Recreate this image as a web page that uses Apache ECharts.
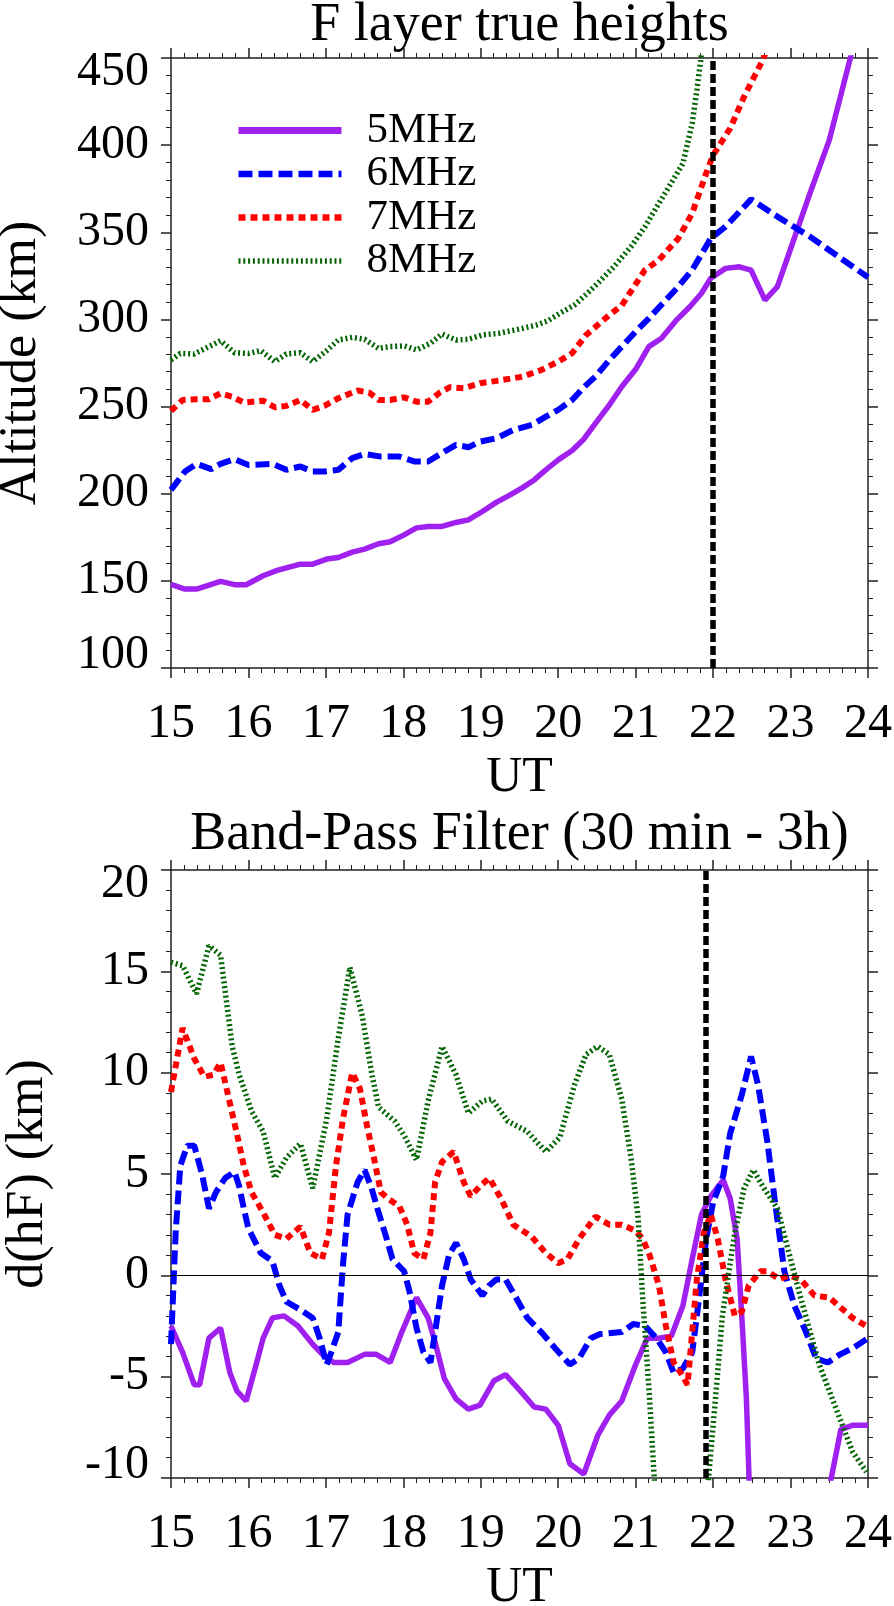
<!DOCTYPE html>
<html>
<head>
<meta charset="utf-8">
<script src="https://cdn.jsdelivr.net/npm/echarts@6/dist/echarts.min.js"></script>
<style>
html,body{margin:0;padding:0;background:#fff;}
#chart{width:894px;height:1606px;}
</style>
</head>
<body>
<div id="chart"></div>
<script>
// ---------- DATA ----------
const seriesNames = ['5MHz', '6MHz', '7MHz', '8MHz'];

// F layer true heights (UT hour, altitude km)
const top5 = [[15.00,148],[15.18,145.3],[15.33,145.3],[15.64,149.7],[15.82,147.8],[15.97,147.8],[16.19,152.9],[16.37,156],[16.67,159.6],[16.83,159.6],[17.01,162.5],[17.16,163.4],[17.34,166.5],[17.50,168.2],[17.68,171.3],[17.83,172.4],[18.01,176.4],[18.17,180.4],[18.32,181.2],[18.50,181.2],[18.68,183.5],[18.84,185],[19.02,189.8],[19.20,195],[19.38,199.3],[19.54,203.5],[19.69,207.9],[19.84,213.7],[20.00,219.4],[20.18,224.8],[20.33,231.3],[20.48,240.4],[20.66,250.9],[20.82,261.4],[21.00,271.4],[21.17,284.4],[21.33,289.1],[21.52,299.3],[21.70,307.3],[21.85,315],[21.97,323.6],[22.16,329.3],[22.34,330.2],[22.49,328.3],[22.67,311.1],[22.83,318.8],[23.01,341.7],[23.25,372.3],[23.50,402.9],[23.83,460]];
const top6 = [[15.00,202.2],[15.18,212.7],[15.33,217.1],[15.52,214.1],[15.64,217.1],[15.82,219.8],[16.00,216.5],[16.31,217.1],[16.49,213.7],[16.67,215.6],[16.83,212.7],[16.98,212.7],[17.16,213.7],[17.34,220.4],[17.50,222.8],[17.71,221.3],[17.95,221.3],[18.14,218.5],[18.32,218.5],[18.53,224.2],[18.68,228],[18.84,226.7],[18.99,229.9],[19.20,231.8],[19.42,236.6],[19.66,239.5],[19.84,244.2],[20.00,248.1],[20.18,253.8],[20.33,261.1],[20.48,267.2],[20.66,276.7],[20.82,284.4],[21.00,293],[21.17,300.6],[21.33,308.3],[21.55,318.8],[21.73,328.4],[21.97,346.5],[22.16,353.2],[22.49,368.9],[22.83,359],[23.25,347.5],[23.62,336],[24.00,324.2]];
const top7 = [[15.00,247.5],[15.15,253.8],[15.33,254.2],[15.49,254.2],[15.64,257.6],[15.79,255.7],[15.94,252.3],[16.19,253.4],[16.34,249.6],[16.49,250.4],[16.67,253.8],[16.83,248.1],[16.98,250.4],[17.16,254.8],[17.41,259.2],[17.56,258],[17.68,253.8],[17.83,253.8],[18.01,255.3],[18.17,252.8],[18.32,252.8],[18.47,258],[18.60,261.1],[18.78,260.5],[18.99,263.4],[19.23,264.9],[19.54,267.2],[19.78,271],[20.00,275.8],[20.18,280.6],[20.36,291.1],[20.51,296.8],[20.66,302.5],[20.82,308],[21.12,328.4],[21.30,334.1],[21.55,346.5],[21.73,360.9],[21.91,383.8],[22.00,394.3],[22.22,409.6],[22.40,427.8],[22.64,448.8],[22.83,470]];
const top8 = [[15.00,276.7],[15.12,280.5],[15.30,280.2],[15.49,284.4],[15.64,287.8],[15.82,280.9],[16.00,280.5],[16.16,282.1],[16.34,275.8],[16.49,280.2],[16.67,280.9],[16.83,275.8],[17.01,282.1],[17.16,288.2],[17.34,289.7],[17.50,288.6],[17.68,283.4],[17.83,284.4],[18.01,284.8],[18.17,282.5],[18.35,286.3],[18.50,291.6],[18.68,288.2],[18.84,288.6],[19.02,291.1],[19.23,292],[19.54,294.9],[19.72,296.8],[19.87,299.3],[20.02,303.5],[20.21,308.3],[20.33,313.1],[20.51,320.7],[20.72,330.3],[20.94,341.7],[21.12,353.2],[21.30,366.6],[21.43,376.1],[21.61,389.5],[21.73,412.5],[21.79,431.6],[21.84,448.8],[21.95,490]];

// Band-pass filtered d(hF) (UT hour, km)
const bp5 = [[15.00,-2.5],[15.15,-3.8],[15.30,-5.4],[15.37,-5.4],[15.49,-3.1],[15.64,-2.6],[15.76,-4.8],[15.85,-5.7],[15.97,-6.2],[16.10,-4.4],[16.19,-3.1],[16.31,-2.1],[16.46,-2.0],[16.64,-2.5],[16.83,-3.4],[16.98,-4.0],[17.10,-4.3],[17.28,-4.3],[17.50,-3.9],[17.65,-3.9],[17.83,-4.3],[17.98,-2.8],[18.17,-1.1],[18.32,-2.1],[18.41,-3.3],[18.53,-5.1],[18.68,-6.1],[18.84,-6.6],[18.99,-6.4],[19.17,-5.2],[19.32,-4.9],[19.51,-5.7],[19.69,-6.5],[19.84,-6.6],[20.00,-7.4],[20.15,-9.3],[20.33,-9.8],[20.51,-7.9],[20.66,-6.9],[20.82,-6.2],[21.00,-4.4],[21.15,-3.1],[21.30,-3.1],[21.46,-3.0],[21.61,-1.5],[21.73,0.8],[21.85,3.0],[21.97,3.9],[22.13,4.7],[22.22,3.8],[22.31,1.8],[22.37,-2.0],[22.43,-6.1],[22.55,-20],[23.35,-13],[23.50,-10.5],[23.65,-7.6],[23.80,-7.4],[24.00,-7.4]];
const bp6 = [[15.00,-3.4],[15.06,2.1],[15.12,5.4],[15.21,6.4],[15.30,6.4],[15.40,5.0],[15.49,3.3],[15.58,4.1],[15.70,4.8],[15.82,5.1],[15.88,4.4],[15.94,3.3],[16.00,2.3],[16.16,1.1],[16.31,0.7],[16.40,-0.5],[16.49,-1.3],[16.67,-1.7],[16.83,-2.1],[16.92,-3.1],[17.01,-4.4],[17.07,-3.8],[17.16,-2.8],[17.22,0.5],[17.28,3.0],[17.41,4.6],[17.50,5.2],[17.59,4.3],[17.68,3.1],[17.77,2.0],[17.86,0.8],[18.01,0.2],[18.08,-0.8],[18.17,-2.6],[18.26,-3.8],[18.35,-4.3],[18.41,-2.8],[18.50,-0.5],[18.59,1.0],[18.68,1.6],[18.78,0.8],[18.87,-0.2],[19.02,-1.0],[19.11,-0.5],[19.20,-0.2],[19.32,-0.2],[19.44,-1.0],[19.60,-2.1],[19.78,-2.8],[19.96,-3.6],[20.15,-4.4],[20.27,-4.1],[20.42,-3.1],[20.54,-2.9],[20.82,-2.8],[20.97,-2.4],[21.12,-2.5],[21.27,-3.1],[21.39,-3.8],[21.49,-4.8],[21.61,-4.6],[21.73,-3.8],[21.82,-1.1],[21.91,1.8],[22.00,3.6],[22.13,4.9],[22.22,7.0],[22.37,8.9],[22.49,10.8],[22.58,9.4],[22.70,6.6],[22.80,3.6],[22.92,0.2],[23.05,-1.5],[23.20,-2.8],[23.33,-4.1],[23.48,-4.3],[23.64,-3.9],[23.80,-3.6],[24.00,-3.1]];
const bp7 = [[15.00,9.05],[15.15,12.2],[15.30,10.7],[15.43,9.8],[15.55,9.9],[15.64,10.5],[15.73,9.0],[15.85,7.0],[15.94,5.4],[16.04,4.1],[16.19,3.1],[16.34,2.0],[16.49,1.8],[16.67,2.4],[16.80,1.1],[16.95,0.8],[17.04,2.1],[17.13,5.4],[17.22,7.7],[17.34,10.0],[17.44,9.2],[17.53,7.4],[17.62,5.8],[17.71,4.1],[17.80,3.8],[17.95,3.4],[18.05,2.5],[18.14,1.1],[18.26,0.8],[18.35,2.1],[18.41,4.6],[18.50,5.6],[18.65,6.1],[18.78,4.6],[18.87,3.9],[18.99,4.4],[19.11,4.8],[19.26,3.8],[19.42,2.5],[19.66,1.9],[19.84,1.1],[20.00,0.6],[20.12,0.8],[20.27,1.8],[20.48,2.9],[20.66,2.5],[20.82,2.5],[21.00,2.2],[21.09,1.8],[21.18,1.0],[21.30,-0.5],[21.39,-2.5],[21.49,-4.3],[21.58,-4.8],[21.67,-5.4],[21.79,-0.2],[21.88,2.1],[21.97,3.0],[22.06,1.8],[22.16,-0.2],[22.28,-2.0],[22.37,-1.8],[22.46,-0.5],[22.61,0.2],[22.70,0.2],[22.86,-0.2],[22.98,0.0],[23.13,-0.2],[23.31,-1.0],[23.50,-1.1],[23.65,-1.6],[23.80,-2.1],[23.98,-2.5]];
const bp8 = [[15.00,15.44],[15.15,15.28],[15.33,13.89],[15.49,16.26],[15.64,15.8],[15.79,11.3],[15.88,9.9],[16.04,8.1],[16.19,7.1],[16.34,4.8],[16.49,5.8],[16.67,6.5],[16.83,4.3],[17.01,7.7],[17.16,11.7],[17.31,15.2],[17.47,12.8],[17.59,10.0],[17.68,8.3],[17.89,7.6],[18.01,6.9],[18.17,5.7],[18.32,8.6],[18.50,11.3],[18.68,9.9],[18.84,8.0],[19.02,8.6],[19.14,8.7],[19.35,7.6],[19.60,7.1],[19.84,6.1],[20.02,6.8],[20.21,9.4],[20.36,10.9],[20.51,11.3],[20.66,10.9],[20.82,8.7],[20.94,5.8],[21.03,2.9],[21.09,-1.1],[21.18,-6.1],[21.30,-14],[21.85,-14],[22.03,-6.1],[22.12,-2.0],[22.28,2.1],[22.40,4.3],[22.52,5.2],[22.64,4.4],[22.83,3.3],[23.00,0.8],[23.13,-1.1],[23.37,-4.4],[23.62,-6.9],[23.80,-8.7],[23.98,-9.7]];

const eventTop = 22.0;      // vertical dotted line, top panel
const eventBottom = 21.9;   // vertical dotted line, bottom panel
const zeroLevel = 0;

const xRange = [15, 24, 1];
const topYRange = [100, 450, 50];
const botYRange = [-10, 20, 5];

const titles = ['F layer true heights', 'Band-Pass Filter (30 min - 3h)'];
const yNames = ['Altitude (km)', 'd(hF) (km)'];
const xName = 'UT';

// ---------- STYLE ----------
const FONT = 'Liberation Serif';
const AX = '#222';
const styles = {
  '5MHz': {color: '#A020F0', type: 'solid', width: 5.5, legendWidth: 7},
  '6MHz': {color: '#0000FF', type: [14, 6], width: 6, legendWidth: 6.5},
  '7MHz': {color: '#FF0000', type: [7, 5], width: 6, legendWidth: 6.5},
  '8MHz': {color: '#006400', type: [2, 2.8], width: 5.5, legendWidth: 5.5}
};

function yFormatter(min, max) {
  return function (v) {
    if (v === max) return '{hi|' + v + '}';
    if (v === min) return '{lo|' + v + '}';
    return '{n|' + v + '}';
  };
}
const labelRich = {
  hi: {fontFamily: FONT, fontSize: 48, color: '#000', padding: [28, 0, 0, 0]},
  lo: {fontFamily: FONT, fontSize: 48, color: '#000', padding: [0, 0, 26, 0]},
  n: {fontFamily: FONT, fontSize: 48, color: '#000'}
};

function xAxisDef(grid, pos, range, name, nameGap, nameSize, labels) {
  return {
    type: 'value', gridIndex: grid, position: pos,
    min: range[0], max: range[1], interval: range[2],
    name: name, nameLocation: 'middle', nameGap: nameGap, nameMoveOverlap: false,
    nameTextStyle: {fontFamily: FONT, fontSize: nameSize, color: '#000'},
    axisLine: {show: true, onZero: false, lineStyle: {color: AX, width: 1.5}},
    axisTick: {show: true, length: 10, lineStyle: {color: AX, width: 1.5}},
    minorTick: {show: true, splitNumber: 6, length: 5, lineStyle: {color: AX, width: 1}},
    splitLine: {show: false}, minorSplitLine: {show: false},
    axisLabel: {show: labels, margin: 32, fontFamily: FONT, fontSize: 48, color: '#000'}
  };
}
function yAxisDef(grid, pos, range, name, nameGap, nameSize, labels) {
  return {
    type: 'value', gridIndex: grid, position: pos,
    min: range[0], max: range[1], interval: range[2],
    name: name, nameLocation: 'middle', nameGap: nameGap, nameMoveOverlap: false,
    nameTextStyle: {fontFamily: FONT, fontSize: nameSize, color: '#000'},
    axisLine: {show: true, onZero: false, lineStyle: {color: AX, width: 1.5}},
    axisTick: {show: true, length: 10, lineStyle: {color: AX, width: 1.5}},
    minorTick: {show: true, splitNumber: 5, length: 5, lineStyle: {color: AX, width: 1}},
    splitLine: {show: false}, minorSplitLine: {show: false},
    axisLabel: {show: labels, margin: 22, formatter: yFormatter(range[0], range[1]), rich: labelRich,
                fontFamily: FONT, fontSize: 48, color: '#000'}
  };
}

function lineSeries(name, data, xi, yi, extra) {
  const s = styles[name];
  return Object.assign({
    name: name, type: 'line', data: data, xAxisIndex: xi, yAxisIndex: yi,
    symbol: 'none', showSymbol: false, clip: true, smooth: false,
    itemStyle: {color: s.color},
    lineStyle: {color: s.color, type: s.type, width: s.width}
  }, extra || {});
}
function vLine(x) {
  return {xAxis: x, lineStyle: {color: '#000', width: 5.5, type: [9, 4]}};
}
function markLines(items) {
  return {markLine: {silent: true, symbol: ['none', 'none'], label: {show: false},
                     animation: false, data: items}};
}

const topSets = [top5, top6, top7, top8];
const botSets = [bp5, bp6, bp7, bp8];
const series = [];
seriesNames.forEach(function (n, i) {
  series.push(lineSeries(n, topSets[i], 0, 0, i === 3 ? markLines([vLine(eventTop)]) : null));
});
seriesNames.forEach(function (n, i) {
  let extra = null;
  if (i === 0) extra = markLines([{yAxis: zeroLevel, lineStyle: {color: '#000', width: 1, type: 'solid'}}]);
  if (i === 3) extra = markLines([vLine(eventBottom)]);
  series.push(lineSeries(n, botSets[i], 2, 2, extra));
});

const legendData = seriesNames.map(function (n) {
  const s = styles[n];
  return {
    name: n,
    itemStyle: {color: 'rgba(0,0,0,0)', opacity: 0, borderWidth: 0},
    lineStyle: {color: s.color, type: s.type, width: s.legendWidth}
  };
});

const option = {
  animation: false,
  backgroundColor: '#fff',
  grid: [
    {left: 171, top: 58, width: 697, height: 610, outerBoundsMode: 'none', containLabel: false},
    {left: 171, top: 870, width: 697, height: 608, outerBoundsMode: 'none', containLabel: false}
  ],
  xAxis: [
    xAxisDef(0, 'bottom', xRange, xName, 85, 50, true),
    xAxisDef(0, 'top', xRange, titles[0], 5, 54, false),
    xAxisDef(1, 'bottom', xRange, xName, 85, 50, true),
    xAxisDef(1, 'top', xRange, titles[1], 8, 54, false)
  ],
  yAxis: [
    yAxisDef(0, 'left', topYRange, yNames[0], 124, 52, true),
    yAxisDef(0, 'right', topYRange, '', 10, 52, false),
    yAxisDef(1, 'left', botYRange, yNames[1], 117, 52, true),
    yAxisDef(1, 'right', botYRange, '', 10, 52, false)
  ],
  legend: {
    show: true, orient: 'vertical', left: 230, top: 104,
    itemWidth: 103, itemHeight: 24, itemGap: 0.5,
    itemStyle: {opacity: 0, borderWidth: 0},
    data: legendData,
    textStyle: {fontFamily: FONT, fontSize: 43, color: '#000', lineHeight: 40, padding: [0, 0, 0, 20]}
  },
  series: series
};

const chart = echarts.init(document.getElementById('chart'), null, {renderer: 'canvas', width: 894, height: 1606});
chart.setOption(option);
</script>
</body>
</html>
